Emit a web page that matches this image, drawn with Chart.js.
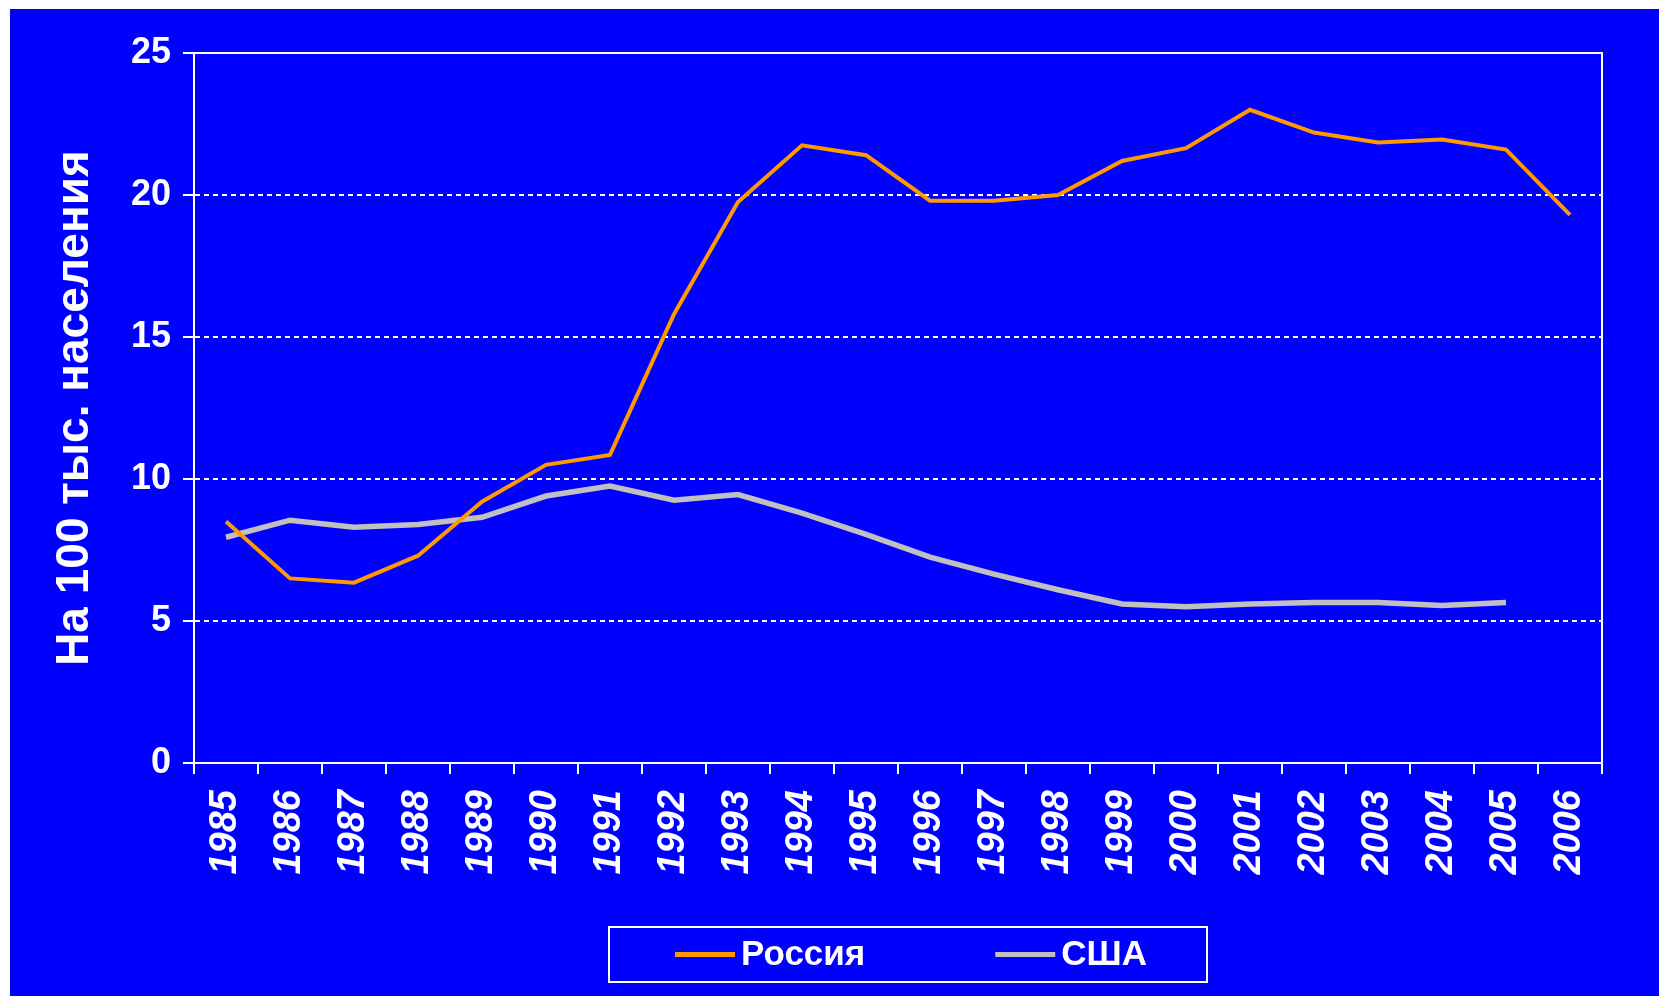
<!DOCTYPE html>
<html>
<head>
<meta charset="utf-8">
<script src="https://cdn.jsdelivr.net/npm/chart.js@4.4.0/dist/chart.umd.min.js"></script>
<style>
  html, body { margin: 0; padding: 0; background: #fff; }
  #wrap { width: 1659px; height: 996px; }
</style>
</head>
<body>
<div id="wrap"><canvas id="myChart" width="1659" height="996"></canvas></div>
<script>
var years = ['1985', '1986', '1987', '1988', '1989', '1990', '1991', '1992', '1993', '1994', '1995',
             '1996', '1997', '1998', '1999', '2000', '2001', '2002', '2003', '2004', '2005', '2006'];
var russia = [8.5, 6.5, 6.35, 7.3, 9.2, 10.5, 10.85, 15.8, 19.75, 21.75, 21.4,
              19.8, 19.8, 20.0, 21.2, 21.65, 23.0, 22.2, 21.85, 21.95, 21.6, 19.3];
var usa = [7.95, 8.55, 8.3, 8.4, 8.65, 9.4, 9.75, 9.25, 9.45, 8.8, 8.05,
           7.25, 6.65, 6.1, 5.6, 5.5, 5.6, 5.65, 5.65, 5.55, 5.65, null];
var yTicks = [0, 5, 10, 15, 20, 25];
var yTitle = 'На 100 тыс. населения';

var FONT = '"Liberation Sans", Arial, sans-serif';

// white margin + blue panel
var background = {
    id: 'background',
    beforeDraw: function(chart) {
        var ctx = chart.ctx;
        ctx.save();
        ctx.fillStyle = '#ffffff';
        ctx.fillRect(0, 0, chart.width, chart.height);
        ctx.fillStyle = '#0000ff';
        ctx.fillRect(10, 9, chart.width - 10, chart.height - 9);
        ctx.restore();
    }
};

// solid frame round the plot area
var frame = {
    id: 'frame',
    beforeDatasetsDraw: function(chart) {
        var a = chart.chartArea, ctx = chart.ctx;
        ctx.save();
        ctx.strokeStyle = '#ffffff';
        ctx.lineWidth = 2;
        ctx.strokeRect(a.left, a.top, a.right - a.left, a.bottom - a.top);
        ctx.restore();
    }
};

// boxed legend under the axis
var boxLegend = {
    id: 'boxLegend',
    afterDraw: function(chart) {
        var ctx = chart.ctx;
        var boxLeft = 609, boxRight = 1207, boxTop = 927, boxHeight = 55;
        var x = 675, midY = boxTop + boxHeight / 2;
        ctx.save();
        ctx.strokeStyle = '#ffffff';
        ctx.lineWidth = 2;
        ctx.strokeRect(boxLeft, boxTop, boxRight - boxLeft, boxHeight);
        ctx.font = 'bold 35px ' + FONT;
        ctx.textBaseline = 'middle';
        chart.data.datasets.forEach(function(ds) {
            ctx.strokeStyle = ds.borderColor;
            ctx.lineWidth = 5;
            ctx.beginPath();
            ctx.moveTo(x, midY);
            ctx.lineTo(x + 60, midY);
            ctx.stroke();
            ctx.fillStyle = '#ffffff';
            ctx.fillText(ds.label, x + 66, midY + 1);
            x += 66 + ctx.measureText(ds.label).width + 130;
        });
        ctx.restore();
    }
};

var ctx = document.getElementById('myChart').getContext('2d');
var chart = new Chart(ctx, {
    type: 'line',
    data: {
        labels: years,
        datasets: [{
            label: 'Россия',
            data: russia,
            borderColor: '#ff9900',
            borderWidth: 4,
            pointRadius: 0,
            tension: 0
        }, {
            label: 'США',
            data: usa,
            borderColor: '#c0c0c0',
            borderWidth: 5.5,
            pointRadius: 0,
            tension: 0
        }]
    },
    options: {
        responsive: false,
        animation: false,
        devicePixelRatio: 1,
        layout: {
            padding: { left: 0, right: 57, top: 53, bottom: 0 }
        },
        plugins: {
            legend: { display: false },
            tooltip: { enabled: false }
        },
        scales: {
            x: {
                type: 'category',
                offset: true,
                afterFit: function(s) { s.height = 233; },
                grid: {
                    offset: true,
                    drawOnChartArea: false,
                    drawTicks: true,
                    tickLength: 11,
                    color: '#ffffff',
                    tickColor: '#ffffff',
                    lineWidth: 2
                },
                border: { display: true, color: '#ffffff', width: 2 },
                ticks: {
                    color: '#ffffff',
                    font: { family: FONT, size: 38, weight: 'bold', style: 'italic' },
                    maxRotation: 90,
                    minRotation: 90,
                    autoSkip: false,
                    padding: 16
                }
            },
            y: {
                min: 0,
                max: 25,
                afterBuildTicks: function(s) {
                    s.ticks = yTicks.map(function(v) { return { value: v }; });
                },
                afterFit: function(s) { s.width = 194; },
                grid: {
                    color: '#ffffff',
                    lineWidth: 2,
                    tickLength: 11,
                    tickColor: '#ffffff',
                    tickBorderDash: []
                },
                border: { display: true, color: '#ffffff', width: 2, dash: [5, 4] },
                ticks: {
                    color: '#ffffff',
                    font: { family: FONT, size: 36, weight: 'bold' },
                    padding: 12
                },
                title: {
                    display: true,
                    text: yTitle,
                    color: '#ffffff',
                    font: { family: FONT, size: 46, weight: 'bold', lineHeight: 1.2 },
                    padding: { top: 48, bottom: 0 }
                }
            }
        }
    },
    plugins: [background, frame, boxLegend]
});
</script>
</body>
</html>
